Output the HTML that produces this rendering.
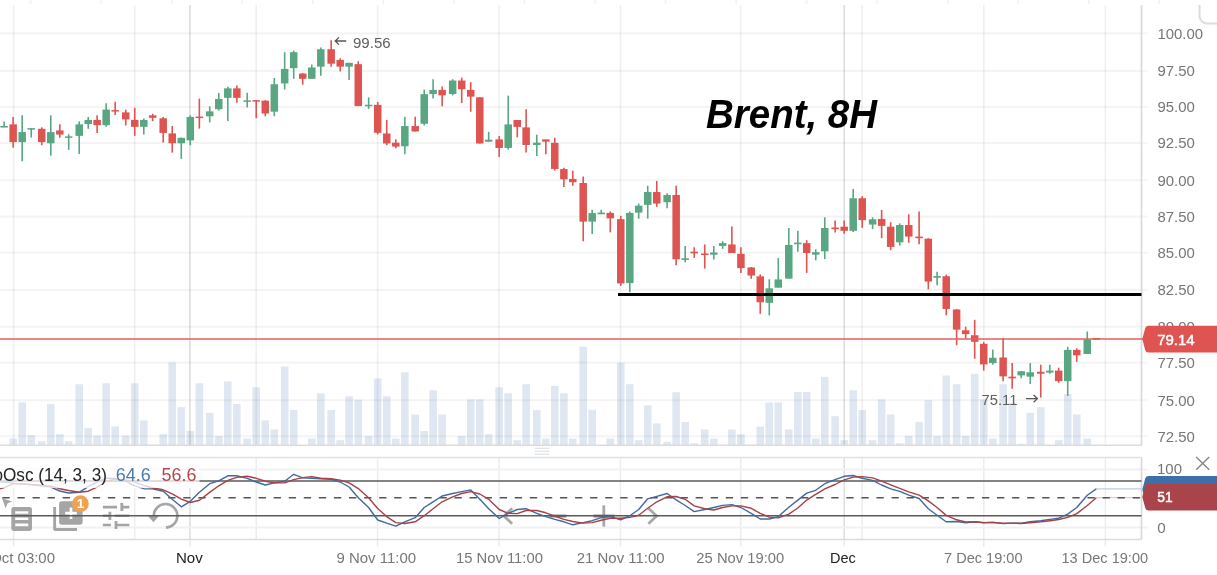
<!DOCTYPE html>
<html lang="en"><head><meta charset="utf-8"><title>Brent, 8H</title>
<style>html,body{margin:0;padding:0;background:#fff;}body{width:1217px;height:575px;overflow:hidden;}svg{display:block;filter:blur(0.4px);}text{font-family:"Liberation Sans", sans-serif;}</style>
</head><body>
<svg width="1217" height="575" viewBox="0 0 1217 575" role="img" aria-label="Brent, 8H candlestick chart">
<rect width="1217" height="575" fill="#fff"/>
<g id="topticks">
<line x1="30.60" y1="0.00" x2="30.60" y2="4.00" stroke="#f1f1f1" stroke-width="1.5"/>
<line x1="101.15" y1="0.00" x2="101.15" y2="4.00" stroke="#f1f1f1" stroke-width="1.5"/>
<line x1="171.70" y1="0.00" x2="171.70" y2="4.00" stroke="#f1f1f1" stroke-width="1.5"/>
<line x1="242.25" y1="0.00" x2="242.25" y2="4.00" stroke="#f1f1f1" stroke-width="1.5"/>
<line x1="312.80" y1="0.00" x2="312.80" y2="4.00" stroke="#f1f1f1" stroke-width="1.5"/>
<line x1="383.35" y1="0.00" x2="383.35" y2="4.00" stroke="#f1f1f1" stroke-width="1.5"/>
<line x1="453.90" y1="0.00" x2="453.90" y2="4.00" stroke="#f1f1f1" stroke-width="1.5"/>
<line x1="524.45" y1="0.00" x2="524.45" y2="4.00" stroke="#f1f1f1" stroke-width="1.5"/>
<line x1="595.00" y1="0.00" x2="595.00" y2="4.00" stroke="#f1f1f1" stroke-width="1.5"/>
<line x1="665.55" y1="0.00" x2="665.55" y2="4.00" stroke="#f1f1f1" stroke-width="1.5"/>
<line x1="736.10" y1="0.00" x2="736.10" y2="4.00" stroke="#f1f1f1" stroke-width="1.5"/>
<line x1="806.65" y1="0.00" x2="806.65" y2="4.00" stroke="#f1f1f1" stroke-width="1.5"/>
<line x1="877.20" y1="0.00" x2="877.20" y2="4.00" stroke="#f1f1f1" stroke-width="1.5"/>
<line x1="947.75" y1="0.00" x2="947.75" y2="4.00" stroke="#f1f1f1" stroke-width="1.5"/>
<line x1="1018.30" y1="0.00" x2="1018.30" y2="4.00" stroke="#f1f1f1" stroke-width="1.5"/>
<line x1="1088.85" y1="0.00" x2="1088.85" y2="4.00" stroke="#f1f1f1" stroke-width="1.5"/>
<line x1="1159.40" y1="0.00" x2="1159.40" y2="4.00" stroke="#f1f1f1" stroke-width="1.5"/>
</g>
<g id="volume" fill="#dfe8f2">
<rect x="9.35" y="438.48" width="7.6" height="6.52"/>
<rect x="18.39" y="402.33" width="7.6" height="42.67"/>
<rect x="27.42" y="435.20" width="7.6" height="9.80"/>
<rect x="37.94" y="441.28" width="7.6" height="3.72"/>
<rect x="46.98" y="403.97" width="7.6" height="41.03"/>
<rect x="56.02" y="434.21" width="7.6" height="10.79"/>
<rect x="64.89" y="441.28" width="7.6" height="3.72"/>
<rect x="75.41" y="384.25" width="7.6" height="60.75"/>
<rect x="84.45" y="428.13" width="7.6" height="16.87"/>
<rect x="93.32" y="435.53" width="7.6" height="9.47"/>
<rect x="102.36" y="383.27" width="7.6" height="61.73"/>
<rect x="111.40" y="426.49" width="7.6" height="18.51"/>
<rect x="121.92" y="435.53" width="7.6" height="9.47"/>
<rect x="130.96" y="383.27" width="7.6" height="61.73"/>
<rect x="140.00" y="420.41" width="7.6" height="24.59"/>
<rect x="159.39" y="434.21" width="7.6" height="10.79"/>
<rect x="168.43" y="362.40" width="7.6" height="82.60"/>
<rect x="177.47" y="407.10" width="7.6" height="37.90"/>
<rect x="186.50" y="430.92" width="7.6" height="14.08"/>
<rect x="195.55" y="383.27" width="7.6" height="61.73"/>
<rect x="205.92" y="412.85" width="7.6" height="32.15"/>
<rect x="214.96" y="435.85" width="7.6" height="9.15"/>
<rect x="224.00" y="381.29" width="7.6" height="63.71"/>
<rect x="233.04" y="403.97" width="7.6" height="41.03"/>
<rect x="243.39" y="438.48" width="7.6" height="6.52"/>
<rect x="252.43" y="387.37" width="7.6" height="57.63"/>
<rect x="261.47" y="420.41" width="7.6" height="24.59"/>
<rect x="270.51" y="429.45" width="7.6" height="15.55"/>
<rect x="280.86" y="366.50" width="7.6" height="78.50"/>
<rect x="289.90" y="410.05" width="7.6" height="34.95"/>
<rect x="307.97" y="438.48" width="7.6" height="6.52"/>
<rect x="317.01" y="393.29" width="7.6" height="51.71"/>
<rect x="327.37" y="410.05" width="7.6" height="34.95"/>
<rect x="336.41" y="440.13" width="7.6" height="4.87"/>
<rect x="345.28" y="396.41" width="7.6" height="48.59"/>
<rect x="354.48" y="399.70" width="7.6" height="45.30"/>
<rect x="364.84" y="435.85" width="7.6" height="9.15"/>
<rect x="373.90" y="378.50" width="7.6" height="66.50"/>
<rect x="382.94" y="396.41" width="7.6" height="48.59"/>
<rect x="392.00" y="438.48" width="7.6" height="6.52"/>
<rect x="401.04" y="372.26" width="7.6" height="72.74"/>
<rect x="411.39" y="414.49" width="7.6" height="30.51"/>
<rect x="420.43" y="430.92" width="7.6" height="14.08"/>
<rect x="429.31" y="390.33" width="7.6" height="54.67"/>
<rect x="438.34" y="414.49" width="7.6" height="30.51"/>
<rect x="457.90" y="435.85" width="7.6" height="9.15"/>
<rect x="466.94" y="399.37" width="7.6" height="45.63"/>
<rect x="475.98" y="399.37" width="7.6" height="45.63"/>
<rect x="484.85" y="434.21" width="7.6" height="10.79"/>
<rect x="495.37" y="387.37" width="7.6" height="57.63"/>
<rect x="504.41" y="393.29" width="7.6" height="51.71"/>
<rect x="513.45" y="440.13" width="7.6" height="4.87"/>
<rect x="522.32" y="384.25" width="7.6" height="60.75"/>
<rect x="533.00" y="410.05" width="7.6" height="34.95"/>
<rect x="542.04" y="438.48" width="7.6" height="6.52"/>
<rect x="550.97" y="385.90" width="7.6" height="59.10"/>
<rect x="560.07" y="393.29" width="7.6" height="51.71"/>
<rect x="568.97" y="438.53" width="7.6" height="6.47"/>
<rect x="579.40" y="346.64" width="7.6" height="98.36"/>
<rect x="588.39" y="409.76" width="7.6" height="35.24"/>
<rect x="606.46" y="438.58" width="7.6" height="6.42"/>
<rect x="616.98" y="362.75" width="7.6" height="82.25"/>
<rect x="626.02" y="384.17" width="7.6" height="60.83"/>
<rect x="634.89" y="440.09" width="7.6" height="4.91"/>
<rect x="643.93" y="405.40" width="7.6" height="39.60"/>
<rect x="652.97" y="423.41" width="7.6" height="21.59"/>
<rect x="663.32" y="441.80" width="7.6" height="3.20"/>
<rect x="672.36" y="392.13" width="7.6" height="52.87"/>
<rect x="681.40" y="421.90" width="7.6" height="23.10"/>
<rect x="690.44" y="443.32" width="7.6" height="1.68"/>
<rect x="700.96" y="429.48" width="7.6" height="15.52"/>
<rect x="710.00" y="438.58" width="7.6" height="6.42"/>
<rect x="728.07" y="429.48" width="7.6" height="15.52"/>
<rect x="737.11" y="434.22" width="7.6" height="10.78"/>
<rect x="756.45" y="426.56" width="7.6" height="18.44"/>
<rect x="765.49" y="402.44" width="7.6" height="42.56"/>
<rect x="774.47" y="402.33" width="7.6" height="42.67"/>
<rect x="784.98" y="429.45" width="7.6" height="15.55"/>
<rect x="794.02" y="391.98" width="7.6" height="53.02"/>
<rect x="802.90" y="391.98" width="7.6" height="53.02"/>
<rect x="811.94" y="438.48" width="7.6" height="6.52"/>
<rect x="820.97" y="376.86" width="7.6" height="68.14"/>
<rect x="831.33" y="416.13" width="7.6" height="28.87"/>
<rect x="840.37" y="440.13" width="7.6" height="4.87"/>
<rect x="849.40" y="390.33" width="7.6" height="54.67"/>
<rect x="858.44" y="410.05" width="7.6" height="34.95"/>
<rect x="868.80" y="440.13" width="7.6" height="4.87"/>
<rect x="877.84" y="399.37" width="7.6" height="45.63"/>
<rect x="886.87" y="414.49" width="7.6" height="30.51"/>
<rect x="895.91" y="443.25" width="7.6" height="1.75"/>
<rect x="904.95" y="435.85" width="7.6" height="9.15"/>
<rect x="915.30" y="422.05" width="7.6" height="22.95"/>
<rect x="924.51" y="400.19" width="7.6" height="44.81"/>
<rect x="933.32" y="435.85" width="7.6" height="9.15"/>
<rect x="942.44" y="375.54" width="7.6" height="69.46"/>
<rect x="952.82" y="384.25" width="7.6" height="60.75"/>
<rect x="961.86" y="435.85" width="7.6" height="9.15"/>
<rect x="970.90" y="373.90" width="7.6" height="71.10"/>
<rect x="979.94" y="399.37" width="7.6" height="45.63"/>
<rect x="988.98" y="438.48" width="7.6" height="6.52"/>
<rect x="999.33" y="384.25" width="7.6" height="60.75"/>
<rect x="1008.37" y="402.66" width="7.6" height="42.34"/>
<rect x="1017.41" y="443.74" width="7.6" height="1.26"/>
<rect x="1026.45" y="412.85" width="7.6" height="32.15"/>
<rect x="1036.96" y="407.10" width="7.6" height="37.90"/>
<rect x="1054.88" y="440.13" width="7.6" height="4.87"/>
<rect x="1063.92" y="393.95" width="7.6" height="51.05"/>
<rect x="1072.95" y="414.49" width="7.6" height="30.51"/>
<rect x="1083.47" y="438.48" width="7.6" height="6.52"/>
</g>
<g id="grid">
<line x1="0.00" y1="33.40" x2="1147.50" y2="33.40" stroke="#000" stroke-width="2.1" stroke-opacity="0.043"/>
<line x1="0.00" y1="70.90" x2="1147.50" y2="70.90" stroke="#000" stroke-width="2.1" stroke-opacity="0.043"/>
<line x1="0.00" y1="107.00" x2="1147.50" y2="107.00" stroke="#000" stroke-width="2.1" stroke-opacity="0.043"/>
<line x1="0.00" y1="143.10" x2="1147.50" y2="143.10" stroke="#000" stroke-width="2.1" stroke-opacity="0.043"/>
<line x1="0.00" y1="180.30" x2="1147.50" y2="180.30" stroke="#000" stroke-width="2.1" stroke-opacity="0.043"/>
<line x1="0.00" y1="216.60" x2="1147.50" y2="216.60" stroke="#000" stroke-width="2.1" stroke-opacity="0.043"/>
<line x1="0.00" y1="252.80" x2="1147.50" y2="252.80" stroke="#000" stroke-width="2.1" stroke-opacity="0.043"/>
<line x1="0.00" y1="289.90" x2="1147.50" y2="289.90" stroke="#000" stroke-width="2.1" stroke-opacity="0.043"/>
<line x1="0.00" y1="326.70" x2="1147.50" y2="326.70" stroke="#000" stroke-width="2.1" stroke-opacity="0.043"/>
<line x1="0.00" y1="362.60" x2="1147.50" y2="362.60" stroke="#000" stroke-width="2.1" stroke-opacity="0.043"/>
<line x1="0.00" y1="400.20" x2="1147.50" y2="400.20" stroke="#000" stroke-width="2.1" stroke-opacity="0.043"/>
<line x1="0.00" y1="436.20" x2="1147.50" y2="436.20" stroke="#000" stroke-width="2.1" stroke-opacity="0.043"/>
<line x1="13.60" y1="5.00" x2="13.60" y2="445.20" stroke="#000" stroke-width="1.7" stroke-opacity="0.06"/>
<line x1="13.60" y1="488.20" x2="13.60" y2="539.50" stroke="#ededee" stroke-width="1.5"/>
<line x1="13.60" y1="539.50" x2="13.60" y2="546.50" stroke="#ebebeb" stroke-width="1.5"/>
<line x1="134.70" y1="5.00" x2="134.70" y2="445.20" stroke="#000" stroke-width="1.7" stroke-opacity="0.06"/>
<line x1="134.70" y1="488.20" x2="134.70" y2="539.50" stroke="#ededee" stroke-width="1.5"/>
<line x1="189.90" y1="5.00" x2="189.90" y2="445.20" stroke="#000" stroke-width="1.7" stroke-opacity="0.13"/>
<line x1="189.90" y1="488.20" x2="189.90" y2="539.50" stroke="#dedede" stroke-width="1.5"/>
<line x1="189.90" y1="539.50" x2="189.90" y2="546.50" stroke="#ebebeb" stroke-width="1.5"/>
<line x1="256.20" y1="5.00" x2="256.20" y2="445.20" stroke="#000" stroke-width="1.7" stroke-opacity="0.06"/>
<line x1="256.20" y1="457.50" x2="256.20" y2="539.50" stroke="#ededee" stroke-width="1.5"/>
<line x1="377.60" y1="5.00" x2="377.60" y2="445.20" stroke="#000" stroke-width="1.7" stroke-opacity="0.06"/>
<line x1="377.60" y1="457.50" x2="377.60" y2="539.50" stroke="#ededee" stroke-width="1.5"/>
<line x1="377.60" y1="539.50" x2="377.60" y2="546.50" stroke="#ebebeb" stroke-width="1.5"/>
<line x1="499.00" y1="5.00" x2="499.00" y2="445.20" stroke="#000" stroke-width="1.7" stroke-opacity="0.06"/>
<line x1="499.00" y1="457.50" x2="499.00" y2="539.50" stroke="#ededee" stroke-width="1.5"/>
<line x1="499.00" y1="539.50" x2="499.00" y2="546.50" stroke="#ebebeb" stroke-width="1.5"/>
<line x1="620.40" y1="5.00" x2="620.40" y2="445.20" stroke="#000" stroke-width="1.7" stroke-opacity="0.06"/>
<line x1="620.40" y1="457.50" x2="620.40" y2="539.50" stroke="#ededee" stroke-width="1.5"/>
<line x1="620.40" y1="539.50" x2="620.40" y2="546.50" stroke="#ebebeb" stroke-width="1.5"/>
<line x1="740.80" y1="5.00" x2="740.80" y2="445.20" stroke="#000" stroke-width="1.7" stroke-opacity="0.06"/>
<line x1="740.80" y1="457.50" x2="740.80" y2="539.50" stroke="#ededee" stroke-width="1.5"/>
<line x1="740.80" y1="539.50" x2="740.80" y2="546.50" stroke="#ebebeb" stroke-width="1.5"/>
<line x1="844.20" y1="5.00" x2="844.20" y2="445.20" stroke="#000" stroke-width="1.7" stroke-opacity="0.13"/>
<line x1="844.20" y1="457.50" x2="844.20" y2="539.50" stroke="#dedede" stroke-width="1.5"/>
<line x1="844.20" y1="539.50" x2="844.20" y2="546.50" stroke="#ebebeb" stroke-width="1.5"/>
<line x1="862.10" y1="5.00" x2="862.10" y2="445.20" stroke="#000" stroke-width="1.7" stroke-opacity="0.06"/>
<line x1="862.10" y1="457.50" x2="862.10" y2="539.50" stroke="#ededee" stroke-width="1.5"/>
<line x1="983.80" y1="5.00" x2="983.80" y2="445.20" stroke="#000" stroke-width="1.7" stroke-opacity="0.06"/>
<line x1="983.80" y1="457.50" x2="983.80" y2="539.50" stroke="#ededee" stroke-width="1.5"/>
<line x1="983.80" y1="539.50" x2="983.80" y2="546.50" stroke="#ebebeb" stroke-width="1.5"/>
<line x1="1105.40" y1="5.00" x2="1105.40" y2="445.20" stroke="#000" stroke-width="1.7" stroke-opacity="0.06"/>
<line x1="1105.40" y1="457.50" x2="1105.40" y2="539.50" stroke="#ededee" stroke-width="1.5"/>
<line x1="1105.40" y1="539.50" x2="1105.40" y2="546.50" stroke="#ebebeb" stroke-width="1.5"/>
<line x1="0.00" y1="469.40" x2="1147.50" y2="469.40" stroke="#f1f1f1" stroke-width="2.0"/>
<line x1="0.00" y1="527.60" x2="1147.50" y2="527.60" stroke="#f1f1f1" stroke-width="2.0"/>
</g>
<g id="borders">
<line x1="0.00" y1="445.20" x2="1141.50" y2="445.20" stroke="#dcdcdc" stroke-width="1.6"/>
<line x1="0.00" y1="457.50" x2="1141.50" y2="457.50" stroke="#e2e2e2" stroke-width="1.6"/>
<line x1="0.00" y1="539.50" x2="1141.50" y2="539.50" stroke="#dcdcdc" stroke-width="1.6"/>
<line x1="1141.50" y1="5.00" x2="1141.50" y2="445.20" stroke="#d8d8da" stroke-width="1.6"/>
<line x1="1141.50" y1="457.50" x2="1141.50" y2="539.50" stroke="#d8d8da" stroke-width="1.6"/>
</g>
<g id="handle" stroke="#dde3ea" stroke-width="1.2">
<line x1="534.5" y1="448.3" x2="549.5" y2="448.3"/>
<line x1="534.5" y1="451.3" x2="549.5" y2="451.3"/>
<line x1="534.5" y1="454.2" x2="549.5" y2="454.2"/>
</g>
<g id="candles">
<line x1="4.11" y1="121.41" x2="4.11" y2="127.33" stroke="#58a682" stroke-width="1.6"/>
<rect x="0.36" y="126.01" width="7.5" height="1.50" fill="#58a682"/>
<line x1="13.15" y1="116.98" x2="13.15" y2="147.71" stroke="#de5450" stroke-width="1.6"/>
<rect x="9.40" y="124.37" width="7.5" height="17.75" fill="#de5450"/>
<line x1="22.19" y1="115.33" x2="22.19" y2="161.35" stroke="#58a682" stroke-width="1.6"/>
<rect x="18.44" y="132.10" width="7.5" height="10.02" fill="#58a682"/>
<line x1="31.22" y1="128.15" x2="31.22" y2="137.52" stroke="#58a682" stroke-width="1.6"/>
<rect x="27.47" y="128.15" width="7.5" height="1.50" fill="#58a682"/>
<line x1="41.74" y1="127.33" x2="41.74" y2="145.24" stroke="#de5450" stroke-width="1.6"/>
<rect x="37.99" y="128.81" width="7.5" height="13.31" fill="#de5450"/>
<line x1="50.78" y1="115.33" x2="50.78" y2="155.60" stroke="#58a682" stroke-width="1.6"/>
<rect x="47.03" y="132.10" width="7.5" height="11.18" fill="#58a682"/>
<line x1="59.82" y1="124.37" x2="59.82" y2="137.85" stroke="#de5450" stroke-width="1.6"/>
<rect x="56.07" y="130.45" width="7.5" height="4.11" fill="#de5450"/>
<line x1="68.69" y1="134.23" x2="68.69" y2="149.84" stroke="#58a682" stroke-width="1.6"/>
<rect x="64.94" y="136.37" width="7.5" height="1.50" fill="#58a682"/>
<line x1="79.21" y1="121.41" x2="79.21" y2="153.95" stroke="#58a682" stroke-width="1.6"/>
<rect x="75.46" y="124.37" width="7.5" height="11.50" fill="#58a682"/>
<line x1="88.25" y1="116.98" x2="88.25" y2="128.81" stroke="#58a682" stroke-width="1.6"/>
<rect x="84.50" y="119.93" width="7.5" height="4.11" fill="#58a682"/>
<line x1="97.12" y1="115.33" x2="97.12" y2="133.08" stroke="#de5450" stroke-width="1.6"/>
<rect x="93.37" y="119.93" width="7.5" height="5.26" fill="#de5450"/>
<line x1="106.16" y1="103.34" x2="106.16" y2="126.84" stroke="#58a682" stroke-width="1.6"/>
<rect x="102.41" y="109.58" width="7.5" height="15.61" fill="#58a682"/>
<line x1="115.20" y1="101.86" x2="115.20" y2="115.00" stroke="#de5450" stroke-width="1.6"/>
<rect x="111.45" y="110.07" width="7.5" height="1.50" fill="#de5450"/>
<line x1="125.72" y1="109.58" x2="125.72" y2="125.52" stroke="#de5450" stroke-width="1.6"/>
<rect x="121.97" y="112.37" width="7.5" height="7.07" fill="#de5450"/>
<line x1="134.76" y1="107.94" x2="134.76" y2="135.88" stroke="#de5450" stroke-width="1.6"/>
<rect x="131.01" y="119.93" width="7.5" height="6.90" fill="#de5450"/>
<line x1="143.80" y1="118.62" x2="143.80" y2="134.56" stroke="#58a682" stroke-width="1.6"/>
<rect x="140.05" y="119.93" width="7.5" height="6.90" fill="#58a682"/>
<line x1="152.67" y1="113.69" x2="152.67" y2="121.08" stroke="#de5450" stroke-width="1.6"/>
<rect x="148.92" y="115.33" width="7.5" height="2.47" fill="#de5450"/>
<line x1="163.19" y1="116.98" x2="163.19" y2="142.45" stroke="#de5450" stroke-width="1.6"/>
<rect x="159.44" y="118.29" width="7.5" height="14.63" fill="#de5450"/>
<line x1="172.23" y1="126.01" x2="172.23" y2="152.64" stroke="#de5450" stroke-width="1.6"/>
<rect x="168.48" y="133.41" width="7.5" height="9.86" fill="#de5450"/>
<line x1="181.27" y1="137.52" x2="181.27" y2="158.88" stroke="#58a682" stroke-width="1.6"/>
<rect x="177.52" y="137.85" width="7.5" height="5.42" fill="#58a682"/>
<line x1="190.30" y1="115.33" x2="190.30" y2="145.24" stroke="#58a682" stroke-width="1.6"/>
<rect x="186.55" y="116.98" width="7.5" height="23.34" fill="#58a682"/>
<line x1="199.35" y1="98.69" x2="199.35" y2="128.60" stroke="#de5450" stroke-width="1.6"/>
<rect x="195.60" y="116.61" width="7.5" height="1.50" fill="#de5450"/>
<line x1="209.72" y1="106.42" x2="209.72" y2="122.36" stroke="#58a682" stroke-width="1.6"/>
<rect x="205.97" y="111.35" width="7.5" height="4.93" fill="#58a682"/>
<line x1="218.76" y1="92.94" x2="218.76" y2="110.53" stroke="#58a682" stroke-width="1.6"/>
<rect x="215.01" y="99.02" width="7.5" height="10.19" fill="#58a682"/>
<line x1="227.80" y1="86.70" x2="227.80" y2="120.88" stroke="#58a682" stroke-width="1.6"/>
<rect x="224.05" y="88.34" width="7.5" height="9.53" fill="#58a682"/>
<line x1="236.84" y1="85.38" x2="236.84" y2="102.80" stroke="#de5450" stroke-width="1.6"/>
<rect x="233.09" y="88.34" width="7.5" height="9.53" fill="#de5450"/>
<line x1="247.19" y1="92.78" x2="247.19" y2="107.57" stroke="#58a682" stroke-width="1.6"/>
<rect x="243.44" y="100.34" width="7.5" height="1.50" fill="#58a682"/>
<line x1="256.23" y1="100.17" x2="256.23" y2="118.25" stroke="#de5450" stroke-width="1.6"/>
<rect x="252.48" y="100.17" width="7.5" height="1.50" fill="#de5450"/>
<line x1="265.27" y1="100.17" x2="265.27" y2="116.28" stroke="#de5450" stroke-width="1.6"/>
<rect x="261.52" y="100.67" width="7.5" height="12.82" fill="#de5450"/>
<line x1="274.31" y1="77.99" x2="274.31" y2="116.28" stroke="#58a682" stroke-width="1.6"/>
<rect x="270.56" y="84.23" width="7.5" height="27.44" fill="#58a682"/>
<line x1="284.66" y1="52.19" x2="284.66" y2="89.49" stroke="#58a682" stroke-width="1.6"/>
<rect x="280.91" y="68.95" width="7.5" height="14.46" fill="#58a682"/>
<line x1="293.70" y1="50.54" x2="293.70" y2="78.81" stroke="#58a682" stroke-width="1.6"/>
<rect x="289.95" y="52.19" width="7.5" height="15.94" fill="#58a682"/>
<line x1="302.74" y1="73.06" x2="302.74" y2="84.72" stroke="#de5450" stroke-width="1.6"/>
<rect x="298.99" y="73.55" width="7.5" height="5.26" fill="#de5450"/>
<line x1="311.77" y1="64.51" x2="311.77" y2="78.81" stroke="#58a682" stroke-width="1.6"/>
<rect x="308.02" y="67.47" width="7.5" height="11.34" fill="#58a682"/>
<line x1="320.81" y1="47.58" x2="320.81" y2="75.69" stroke="#58a682" stroke-width="1.6"/>
<rect x="317.06" y="49.23" width="7.5" height="17.42" fill="#58a682"/>
<line x1="331.17" y1="40.19" x2="331.17" y2="66.65" stroke="#de5450" stroke-width="1.6"/>
<rect x="327.42" y="49.23" width="7.5" height="14.46" fill="#de5450"/>
<line x1="340.21" y1="58.27" x2="340.21" y2="71.41" stroke="#de5450" stroke-width="1.6"/>
<rect x="336.46" y="59.91" width="7.5" height="6.74" fill="#de5450"/>
<line x1="349.08" y1="62.87" x2="349.08" y2="80.12" stroke="#58a682" stroke-width="1.6"/>
<rect x="345.33" y="62.87" width="7.5" height="3.78" fill="#58a682"/>
<line x1="358.28" y1="61.22" x2="358.28" y2="106.09" stroke="#de5450" stroke-width="1.6"/>
<rect x="354.53" y="64.18" width="7.5" height="41.91" fill="#de5450"/>
<line x1="368.64" y1="97.38" x2="368.64" y2="108.88" stroke="#58a682" stroke-width="1.6"/>
<rect x="364.89" y="104.77" width="7.5" height="1.50" fill="#58a682"/>
<line x1="377.70" y1="101.91" x2="377.70" y2="134.45" stroke="#de5450" stroke-width="1.6"/>
<rect x="373.95" y="104.86" width="7.5" height="27.94" fill="#de5450"/>
<line x1="386.74" y1="119.98" x2="386.74" y2="145.13" stroke="#de5450" stroke-width="1.6"/>
<rect x="382.99" y="133.46" width="7.5" height="10.02" fill="#de5450"/>
<line x1="395.80" y1="139.21" x2="395.80" y2="148.25" stroke="#de5450" stroke-width="1.6"/>
<rect x="392.05" y="142.66" width="7.5" height="3.94" fill="#de5450"/>
<line x1="404.84" y1="116.70" x2="404.84" y2="154.17" stroke="#58a682" stroke-width="1.6"/>
<rect x="401.09" y="126.06" width="7.5" height="20.21" fill="#58a682"/>
<line x1="415.19" y1="116.70" x2="415.19" y2="131.49" stroke="#de5450" stroke-width="1.6"/>
<rect x="411.44" y="126.06" width="7.5" height="5.42" fill="#de5450"/>
<line x1="424.23" y1="89.58" x2="424.23" y2="125.41" stroke="#58a682" stroke-width="1.6"/>
<rect x="420.48" y="94.18" width="7.5" height="29.58" fill="#58a682"/>
<line x1="433.11" y1="79.23" x2="433.11" y2="98.62" stroke="#58a682" stroke-width="1.6"/>
<rect x="429.36" y="89.91" width="7.5" height="4.11" fill="#58a682"/>
<line x1="442.14" y1="86.62" x2="442.14" y2="106.34" stroke="#de5450" stroke-width="1.6"/>
<rect x="438.39" y="89.91" width="7.5" height="5.42" fill="#de5450"/>
<line x1="452.66" y1="79.23" x2="452.66" y2="95.33" stroke="#58a682" stroke-width="1.6"/>
<rect x="448.91" y="80.54" width="7.5" height="13.48" fill="#58a682"/>
<line x1="461.70" y1="77.58" x2="461.70" y2="103.06" stroke="#de5450" stroke-width="1.6"/>
<rect x="457.95" y="80.54" width="7.5" height="8.71" fill="#de5450"/>
<line x1="470.74" y1="82.19" x2="470.74" y2="111.77" stroke="#de5450" stroke-width="1.6"/>
<rect x="466.99" y="89.91" width="7.5" height="6.74" fill="#de5450"/>
<line x1="479.78" y1="97.30" x2="479.78" y2="143.48" stroke="#de5450" stroke-width="1.6"/>
<rect x="476.03" y="97.30" width="7.5" height="46.18" fill="#de5450"/>
<line x1="488.65" y1="131.82" x2="488.65" y2="141.68" stroke="#58a682" stroke-width="1.6"/>
<rect x="484.90" y="139.70" width="7.5" height="1.97" fill="#58a682"/>
<line x1="499.17" y1="136.09" x2="499.17" y2="157.12" stroke="#de5450" stroke-width="1.6"/>
<rect x="495.42" y="139.38" width="7.5" height="8.55" fill="#de5450"/>
<line x1="508.21" y1="95.66" x2="508.21" y2="149.56" stroke="#58a682" stroke-width="1.6"/>
<rect x="504.46" y="124.42" width="7.5" height="23.50" fill="#58a682"/>
<line x1="517.25" y1="119.98" x2="517.25" y2="137.24" stroke="#de5450" stroke-width="1.6"/>
<rect x="513.50" y="119.98" width="7.5" height="6.90" fill="#de5450"/>
<line x1="526.12" y1="109.30" x2="526.12" y2="152.52" stroke="#de5450" stroke-width="1.6"/>
<rect x="522.37" y="127.38" width="7.5" height="17.58" fill="#de5450"/>
<line x1="536.80" y1="134.77" x2="536.80" y2="155.97" stroke="#58a682" stroke-width="1.6"/>
<rect x="533.05" y="142.66" width="7.5" height="2.30" fill="#58a682"/>
<line x1="545.84" y1="139.38" x2="545.84" y2="154.17" stroke="#de5450" stroke-width="1.6"/>
<rect x="542.09" y="139.38" width="7.5" height="2.30" fill="#de5450"/>
<line x1="554.77" y1="137.72" x2="554.77" y2="170.59" stroke="#de5450" stroke-width="1.6"/>
<rect x="551.02" y="142.82" width="7.5" height="26.13" fill="#de5450"/>
<line x1="563.87" y1="167.80" x2="563.87" y2="187.03" stroke="#de5450" stroke-width="1.6"/>
<rect x="560.12" y="169.11" width="7.5" height="10.19" fill="#de5450"/>
<line x1="572.77" y1="170.68" x2="572.77" y2="185.80" stroke="#de5450" stroke-width="1.6"/>
<rect x="569.02" y="178.90" width="7.5" height="3.29" fill="#de5450"/>
<line x1="583.20" y1="176.43" x2="583.20" y2="241.35" stroke="#de5450" stroke-width="1.6"/>
<rect x="579.45" y="183.01" width="7.5" height="38.62" fill="#de5450"/>
<line x1="592.19" y1="209.79" x2="592.19" y2="233.95" stroke="#58a682" stroke-width="1.6"/>
<rect x="588.44" y="213.08" width="7.5" height="8.55" fill="#58a682"/>
<line x1="601.22" y1="209.79" x2="601.22" y2="214.23" stroke="#58a682" stroke-width="1.6"/>
<rect x="597.47" y="212.59" width="7.5" height="1.64" fill="#58a682"/>
<line x1="610.26" y1="211.44" x2="610.26" y2="232.31" stroke="#de5450" stroke-width="1.6"/>
<rect x="606.51" y="212.92" width="7.5" height="5.42" fill="#de5450"/>
<line x1="620.78" y1="215.88" x2="620.78" y2="285.88" stroke="#de5450" stroke-width="1.6"/>
<rect x="617.03" y="219.16" width="7.5" height="64.26" fill="#de5450"/>
<line x1="629.82" y1="211.44" x2="629.82" y2="292.13" stroke="#58a682" stroke-width="1.6"/>
<rect x="626.07" y="212.92" width="7.5" height="70.17" fill="#58a682"/>
<line x1="638.69" y1="203.55" x2="638.69" y2="218.67" stroke="#58a682" stroke-width="1.6"/>
<rect x="634.94" y="205.69" width="7.5" height="6.90" fill="#58a682"/>
<line x1="647.73" y1="185.80" x2="647.73" y2="218.67" stroke="#58a682" stroke-width="1.6"/>
<rect x="643.98" y="192.05" width="7.5" height="12.82" fill="#58a682"/>
<line x1="656.77" y1="181.04" x2="656.77" y2="206.84" stroke="#de5450" stroke-width="1.6"/>
<rect x="653.02" y="192.05" width="7.5" height="11.50" fill="#de5450"/>
<line x1="667.12" y1="193.36" x2="667.12" y2="208.15" stroke="#58a682" stroke-width="1.6"/>
<rect x="663.37" y="195.00" width="7.5" height="7.23" fill="#58a682"/>
<line x1="676.16" y1="185.80" x2="676.16" y2="265.34" stroke="#de5450" stroke-width="1.6"/>
<rect x="672.41" y="195.00" width="7.5" height="64.26" fill="#de5450"/>
<line x1="685.20" y1="245.94" x2="685.20" y2="262.37" stroke="#58a682" stroke-width="1.6"/>
<rect x="681.45" y="258.27" width="7.5" height="1.64" fill="#58a682"/>
<line x1="694.24" y1="247.26" x2="694.24" y2="257.94" stroke="#de5450" stroke-width="1.6"/>
<rect x="690.49" y="251.69" width="7.5" height="1.64" fill="#de5450"/>
<line x1="704.76" y1="244.46" x2="704.76" y2="268.62" stroke="#de5450" stroke-width="1.6"/>
<rect x="701.01" y="253.50" width="7.5" height="1.50" fill="#de5450"/>
<line x1="713.80" y1="245.94" x2="713.80" y2="259.58" stroke="#58a682" stroke-width="1.6"/>
<rect x="710.05" y="252.51" width="7.5" height="2.14" fill="#58a682"/>
<line x1="722.67" y1="241.18" x2="722.67" y2="248.90" stroke="#58a682" stroke-width="1.6"/>
<rect x="718.92" y="243.15" width="7.5" height="2.79" fill="#58a682"/>
<line x1="731.87" y1="226.55" x2="731.87" y2="253.01" stroke="#de5450" stroke-width="1.6"/>
<rect x="728.12" y="244.46" width="7.5" height="8.55" fill="#de5450"/>
<line x1="740.91" y1="247.26" x2="740.91" y2="273.06" stroke="#de5450" stroke-width="1.6"/>
<rect x="737.16" y="253.83" width="7.5" height="14.30" fill="#de5450"/>
<line x1="751.21" y1="266.98" x2="751.21" y2="278.81" stroke="#de5450" stroke-width="1.6"/>
<rect x="747.46" y="267.47" width="7.5" height="8.05" fill="#de5450"/>
<line x1="760.25" y1="274.37" x2="760.25" y2="313.81" stroke="#de5450" stroke-width="1.6"/>
<rect x="756.50" y="276.34" width="7.5" height="25.97" fill="#de5450"/>
<line x1="769.29" y1="279.30" x2="769.29" y2="315.46" stroke="#58a682" stroke-width="1.6"/>
<rect x="765.54" y="288.34" width="7.5" height="14.46" fill="#58a682"/>
<line x1="778.27" y1="258.08" x2="778.27" y2="287.66" stroke="#58a682" stroke-width="1.6"/>
<rect x="774.52" y="279.44" width="7.5" height="8.22" fill="#58a682"/>
<line x1="788.78" y1="228.00" x2="788.78" y2="278.62" stroke="#58a682" stroke-width="1.6"/>
<rect x="785.03" y="244.93" width="7.5" height="33.69" fill="#58a682"/>
<line x1="797.82" y1="230.81" x2="797.82" y2="251.68" stroke="#58a682" stroke-width="1.6"/>
<rect x="794.07" y="242.64" width="7.5" height="1.64" fill="#58a682"/>
<line x1="806.70" y1="240.17" x2="806.70" y2="272.88" stroke="#de5450" stroke-width="1.6"/>
<rect x="802.95" y="243.13" width="7.5" height="9.86" fill="#de5450"/>
<line x1="815.74" y1="249.21" x2="815.74" y2="260.39" stroke="#58a682" stroke-width="1.6"/>
<rect x="811.99" y="252.17" width="7.5" height="2.47" fill="#58a682"/>
<line x1="824.77" y1="217.33" x2="824.77" y2="259.07" stroke="#58a682" stroke-width="1.6"/>
<rect x="821.02" y="228.01" width="7.5" height="23.34" fill="#58a682"/>
<line x1="835.13" y1="220.45" x2="835.13" y2="232.45" stroke="#de5450" stroke-width="1.6"/>
<rect x="831.38" y="227.52" width="7.5" height="1.64" fill="#de5450"/>
<line x1="844.17" y1="220.45" x2="844.17" y2="233.76" stroke="#de5450" stroke-width="1.6"/>
<rect x="840.42" y="226.70" width="7.5" height="4.11" fill="#de5450"/>
<line x1="853.20" y1="188.90" x2="853.20" y2="232.12" stroke="#58a682" stroke-width="1.6"/>
<rect x="849.45" y="198.27" width="7.5" height="32.54" fill="#58a682"/>
<line x1="862.24" y1="196.29" x2="862.24" y2="227.85" stroke="#de5450" stroke-width="1.6"/>
<rect x="858.49" y="198.27" width="7.5" height="21.86" fill="#de5450"/>
<line x1="872.60" y1="217.33" x2="872.60" y2="229.16" stroke="#58a682" stroke-width="1.6"/>
<rect x="868.85" y="219.30" width="7.5" height="5.26" fill="#58a682"/>
<line x1="881.64" y1="209.93" x2="881.64" y2="238.20" stroke="#de5450" stroke-width="1.6"/>
<rect x="877.89" y="218.97" width="7.5" height="6.90" fill="#de5450"/>
<line x1="890.67" y1="222.26" x2="890.67" y2="250.20" stroke="#de5450" stroke-width="1.6"/>
<rect x="886.92" y="226.70" width="7.5" height="20.21" fill="#de5450"/>
<line x1="899.71" y1="223.41" x2="899.71" y2="245.60" stroke="#58a682" stroke-width="1.6"/>
<rect x="895.96" y="225.05" width="7.5" height="17.26" fill="#58a682"/>
<line x1="908.75" y1="214.37" x2="908.75" y2="242.80" stroke="#de5450" stroke-width="1.6"/>
<rect x="905.00" y="225.05" width="7.5" height="11.50" fill="#de5450"/>
<line x1="919.10" y1="211.58" x2="919.10" y2="244.28" stroke="#de5450" stroke-width="1.6"/>
<rect x="915.35" y="236.56" width="7.5" height="1.64" fill="#de5450"/>
<line x1="928.31" y1="238.20" x2="928.31" y2="289.31" stroke="#de5450" stroke-width="1.6"/>
<rect x="924.56" y="238.69" width="7.5" height="42.89" fill="#de5450"/>
<line x1="937.12" y1="271.64" x2="937.12" y2="285.28" stroke="#58a682" stroke-width="1.6"/>
<rect x="933.37" y="276.08" width="7.5" height="1.64" fill="#58a682"/>
<line x1="946.24" y1="274.60" x2="946.24" y2="315.19" stroke="#de5450" stroke-width="1.6"/>
<rect x="942.49" y="276.24" width="7.5" height="32.70" fill="#de5450"/>
<line x1="956.62" y1="308.95" x2="956.62" y2="345.27" stroke="#de5450" stroke-width="1.6"/>
<rect x="952.87" y="309.44" width="7.5" height="20.21" fill="#de5450"/>
<line x1="965.66" y1="326.70" x2="965.66" y2="338.69" stroke="#de5450" stroke-width="1.6"/>
<rect x="961.91" y="330.31" width="7.5" height="3.78" fill="#de5450"/>
<line x1="974.70" y1="319.79" x2="974.70" y2="358.74" stroke="#de5450" stroke-width="1.6"/>
<rect x="970.95" y="335.24" width="7.5" height="6.57" fill="#de5450"/>
<line x1="983.74" y1="341.86" x2="983.74" y2="370.62" stroke="#de5450" stroke-width="1.6"/>
<rect x="979.99" y="343.83" width="7.5" height="20.54" fill="#de5450"/>
<line x1="992.78" y1="349.58" x2="992.78" y2="364.70" stroke="#58a682" stroke-width="1.6"/>
<rect x="989.03" y="357.80" width="7.5" height="5.26" fill="#58a682"/>
<line x1="1003.13" y1="338.08" x2="1003.13" y2="381.13" stroke="#de5450" stroke-width="1.6"/>
<rect x="999.38" y="357.47" width="7.5" height="18.90" fill="#de5450"/>
<line x1="1012.17" y1="363.06" x2="1012.17" y2="388.69" stroke="#de5450" stroke-width="1.6"/>
<rect x="1008.42" y="376.70" width="7.5" height="1.64" fill="#de5450"/>
<line x1="1021.21" y1="370.94" x2="1021.21" y2="378.34" stroke="#58a682" stroke-width="1.6"/>
<rect x="1017.46" y="371.27" width="7.5" height="4.11" fill="#58a682"/>
<line x1="1030.25" y1="363.06" x2="1030.25" y2="384.09" stroke="#58a682" stroke-width="1.6"/>
<rect x="1026.50" y="372.26" width="7.5" height="4.44" fill="#58a682"/>
<line x1="1040.76" y1="364.70" x2="1040.76" y2="397.57" stroke="#de5450" stroke-width="1.6"/>
<rect x="1037.01" y="371.77" width="7.5" height="1.97" fill="#de5450"/>
<line x1="1049.80" y1="364.70" x2="1049.80" y2="373.74" stroke="#58a682" stroke-width="1.6"/>
<rect x="1046.05" y="370.62" width="7.5" height="1.97" fill="#58a682"/>
<line x1="1058.68" y1="367.66" x2="1058.68" y2="382.78" stroke="#de5450" stroke-width="1.6"/>
<rect x="1054.93" y="370.62" width="7.5" height="10.52" fill="#de5450"/>
<line x1="1067.72" y1="346.79" x2="1067.72" y2="395.92" stroke="#58a682" stroke-width="1.6"/>
<rect x="1063.97" y="349.91" width="7.5" height="31.22" fill="#58a682"/>
<line x1="1076.75" y1="348.27" x2="1076.75" y2="361.91" stroke="#de5450" stroke-width="1.6"/>
<rect x="1073.00" y="349.91" width="7.5" height="5.42" fill="#de5450"/>
<line x1="1087.27" y1="331.50" x2="1087.27" y2="354.02" stroke="#58a682" stroke-width="1.6"/>
<rect x="1083.52" y="339.39" width="7.5" height="14.63" fill="#58a682"/>
<rect x="1092.56" y="338.0" width="7.5" height="1.7" fill="#de5450"/>
</g>
<line x1="618.00" y1="294.40" x2="1141.50" y2="294.40" stroke="#000" stroke-width="3.0"/>
<line x1="0.00" y1="338.90" x2="1143.50" y2="338.90" stroke="#e2605c" stroke-width="1.5"/>
<g id="hilo" fill="#5e5e5e" font-size="15.2">
<text x="353" y="48" textLength="37.6" lengthAdjust="spacingAndGlyphs">99.56</text>
<path d="M346.2 41H335.2M339 37.4L335.2 41L339 44.6" fill="none" stroke="#555" stroke-width="1.3"/>
<text x="981.6" y="405.4" textLength="35.8" lengthAdjust="spacingAndGlyphs">75.11</text>
<path d="M1026 398.6H1037.4M1033.6 395L1037.4 398.6L1033.6 402.2" fill="none" stroke="#555" stroke-width="1.3"/>
</g>
<text x="706" y="127.7" font-size="40.6" font-weight="bold" font-style="italic" fill="#000" textLength="171" lengthAdjust="spacingAndGlyphs">Brent, 8H</text>
<g id="tools" fill="#9b9b9b" fill-opacity="0.9">
<path d="M2 498.2L12.2 501.6L7.6 503.3L5.7 508.2Z"/>
<path fill-rule="evenodd" d="M14 507.1H29.3A2.7 2.7 0 0 1 32 509.8V528.2A2.7 2.7 0 0 1 29.3 530.9H14A2.7 2.7 0 0 1 11.3 528.2V509.8A2.7 2.7 0 0 1 14 507.1ZM15.2 511.2V513.7H28.3V511.2ZM15.2 517.4V520H28.3V517.4ZM15.2 523.6V526.2H28.3V523.6Z"/>
<path d="M53.2 507.1H56.1V528H77V530.9H55.2A2 2 0 0 1 53.2 528.9Z"/>
<path fill-rule="evenodd" d="M61.8 501.3H79.9A2.7 2.7 0 0 1 82.6 504V522.1A2.7 2.7 0 0 1 79.9 524.8H61.8A2.7 2.7 0 0 1 59.1 522.1V504A2.7 2.7 0 0 1 61.8 501.3ZM69.6 507.6V511.8H65.2V514.6H69.6V519H72.4V514.6H76.8V511.8H72.4V507.6Z"/>
<path d="M102.9 505.8H117.1V508.4H102.9ZM120.4 503H123.3V505.8H129.3V508.4H123.3V511.1H120.4ZM102.9 514.5H108.5V511.7H111.3V520H108.5V517.1H102.9ZM114.8 514.5H129.3V517.1H114.8ZM102.9 523.7H110.9V526.3H102.9ZM114.6 520.9H117.4V523.7H129.3V526.3H117.4V529H114.6Z"/>
<path d="M147.8 515.8H159.1L153.5 522.2Z"/>
<path d="M153.8 515.8A11.8 11.8 0 1 1 166 527.6" fill="none" stroke="#9b9b9b" stroke-opacity="0.9" stroke-width="2.6"/>
</g>
<g id="nav" fill="none" stroke="#a3a3a3" stroke-width="2.8" stroke-opacity="0.95">
<path d="M512.1 508.3L504 516L512.1 523.7"/>
<path d="M549.8 516H566.4" stroke="#6e6e6e"/>
<path d="M603.8 505.3V526.6"/>
<path d="M593.5 516H614.6" stroke="#6e6e6e"/>
<path d="M648.4 508.3L656.6 516L648.4 523.7"/>
</g>
<g id="osc" fill="none" stroke-linejoin="round">
<line x1="0.00" y1="480.90" x2="1141.50" y2="480.90" stroke="#5a5a5a" stroke-width="1.5"/>
<line x1="0.00" y1="515.80" x2="1141.50" y2="515.80" stroke="#5a5a5a" stroke-width="1.5"/>
<line x1="1096.31" y1="488.95" x2="1141.50" y2="488.95" stroke="#b9cde6" stroke-width="1.2"/>
<line x1="1096.31" y1="497.66" x2="1141.50" y2="497.66" stroke="#f0c8c8" stroke-width="1.2"/>
<line x1="2.4" y1="497.8" x2="1141.5" y2="497.8" stroke="#555" stroke-width="1.6" stroke-dasharray="7.3 7.77"/>
<polyline points="-5.2,481.4 4.1,482.1 13.1,483.1 22.2,484.1 31.2,484.9 41.7,485.8 50.8,487.1 59.8,491.0 68.7,493.0 79.2,492.3 88.2,486.7 97.1,482.1 106.2,478.1 115.2,478.5 125.7,481.2 134.8,485.8 143.8,488.7 152.7,488.9 163.2,491.2 172.2,499.3 181.3,506.8 190.3,501.3 199.4,492.2 209.7,483.7 218.8,480.9 227.8,475.8 236.8,475.8 247.2,478.4 256.2,482.0 265.3,485.0 274.3,482.9 284.7,481.2 293.7,474.3 302.7,477.9 311.8,478.3 320.8,478.8 331.2,479.3 340.2,482.0 349.1,487.0 358.3,497.7 368.6,507.5 377.7,520.0 386.7,523.1 395.8,526.1 404.8,521.8 415.2,517.7 424.2,507.5 433.1,501.8 442.1,496.0 452.7,493.5 461.7,491.6 470.7,489.9 479.8,499.3 488.7,508.7 499.2,518.5 508.2,513.3 517.2,509.5 526.1,508.7 536.8,513.3 545.8,516.6 554.8,519.4 563.9,521.8 572.8,524.8 583.2,522.6 592.2,520.7 601.2,517.7 610.3,516.6 620.8,519.8 629.8,515.7 638.7,509.5 647.7,498.8 656.8,496.3 667.1,493.5 676.2,499.8 685.2,505.5 694.2,511.6 704.8,509.5 713.8,507.5 722.7,505.4 731.9,504.6 740.9,507.5 751.2,513.3 760.2,519.0 769.3,519.0 778.3,516.6 788.8,507.2 797.8,500.1 806.7,493.1 815.7,490.3 824.8,483.7 835.1,479.6 844.2,476.3 853.2,475.5 862.2,478.3 872.6,480.4 881.6,485.0 890.7,488.9 899.7,491.4 908.8,495.2 919.1,498.5 928.3,508.8 937.1,515.2 946.2,521.8 956.6,521.5 965.7,522.8 974.7,521.8 983.7,522.8 992.8,522.3 1003.1,523.6 1012.2,523.1 1021.2,523.1 1030.2,521.8 1040.8,520.7 1049.8,519.4 1058.7,518.2 1067.7,514.1 1076.8,507.5 1087.3,495.2 1096.3,488.9" stroke="#41699e" stroke-width="1.4"/>
<polyline points="-5.2,490.5 4.1,487.6 13.1,483.8 22.2,483.8 31.2,484.4 41.7,485.3 50.8,486.2 59.8,488.7 68.7,490.5 79.2,492.3 88.2,491.2 97.1,487.1 106.2,481.2 115.2,479.0 125.7,479.9 134.8,482.1 143.8,485.3 152.7,488.0 163.2,489.8 172.2,493.9 181.3,499.1 190.3,502.5 199.4,500.3 209.7,492.4 218.8,485.8 227.8,480.4 236.8,477.4 247.2,476.3 256.2,478.3 265.3,481.2 274.3,482.9 284.7,482.9 293.7,479.6 302.7,477.6 311.8,476.6 320.8,478.3 331.2,478.8 340.2,480.1 349.1,482.9 358.3,488.6 368.6,497.7 377.7,508.5 386.7,516.6 395.8,522.6 404.8,523.5 415.2,521.8 424.2,515.7 433.1,508.8 442.1,501.8 452.7,496.8 461.7,493.5 470.7,491.6 479.8,494.0 488.7,499.3 499.2,509.5 508.2,513.3 517.2,513.6 526.1,510.5 536.8,510.5 545.8,512.8 554.8,516.2 563.9,519.4 572.8,521.5 583.2,523.1 592.2,522.6 601.2,520.3 610.3,518.2 620.8,518.2 629.8,517.4 638.7,515.2 647.7,508.3 656.8,501.8 667.1,496.8 676.2,496.5 685.2,499.3 694.2,505.9 704.8,508.8 713.8,510.0 722.7,507.5 731.9,505.9 740.9,505.9 751.2,508.3 760.2,513.3 769.3,517.1 778.3,517.9 788.8,514.1 797.8,508.0 806.7,500.1 815.7,494.4 824.8,488.9 835.1,484.5 844.2,479.9 853.2,477.1 862.2,476.6 872.6,477.9 881.6,481.2 890.7,484.8 899.7,488.3 908.8,491.9 919.1,495.2 928.3,500.9 937.1,507.5 946.2,515.4 956.6,519.8 965.7,522.0 974.7,521.8 983.7,522.6 992.8,522.6 1003.1,523.1 1012.2,523.1 1021.2,523.5 1030.2,522.8 1040.8,521.8 1049.8,520.7 1058.7,519.5 1067.7,517.4 1076.8,513.6 1087.3,505.5 1096.3,497.7" stroke="#a54247" stroke-width="1.4"/>
</g>
<rect x="0" y="460" width="199.5" height="28" fill="#fff" fill-opacity="0.74"/>
<g id="legend" font-size="18">
<text x="-6.6" y="480.8" fill="#222" textLength="113.5" lengthAdjust="spacingAndGlyphs">oOsc (14, 3, 3)</text>
<text x="115.8" y="480.8" fill="#4a78b0" textLength="35" lengthAdjust="spacingAndGlyphs">64.6</text>
<text x="161.5" y="480.8" fill="#b3494d" textLength="35" lengthAdjust="spacingAndGlyphs">56.6</text>
</g>
<circle cx="80.4" cy="503.7" r="8.4" fill="#f0a254"/>
<text x="80.4" y="508.3" font-size="13.5" font-weight="bold" fill="#fff" text-anchor="middle">1</text>
<g id="yaxis" font-size="15.2" fill="#767676">
<text x="1157.5" y="38.7" textLength="45.6" lengthAdjust="spacingAndGlyphs">100.00</text>
<text x="1157.5" y="76.2" textLength="37.4" lengthAdjust="spacingAndGlyphs">97.50</text>
<text x="1157.5" y="112.3" textLength="37.4" lengthAdjust="spacingAndGlyphs">95.00</text>
<text x="1157.5" y="148.4" textLength="37.4" lengthAdjust="spacingAndGlyphs">92.50</text>
<text x="1157.5" y="185.6" textLength="37.4" lengthAdjust="spacingAndGlyphs">90.00</text>
<text x="1157.5" y="221.9" textLength="37.4" lengthAdjust="spacingAndGlyphs">87.50</text>
<text x="1157.5" y="258.1" textLength="37.4" lengthAdjust="spacingAndGlyphs">85.00</text>
<text x="1157.5" y="295.2" textLength="37.4" lengthAdjust="spacingAndGlyphs">82.50</text>
<text x="1157.5" y="332.0" textLength="37.4" lengthAdjust="spacingAndGlyphs">80.00</text>
<text x="1157.5" y="367.9" textLength="37.4" lengthAdjust="spacingAndGlyphs">77.50</text>
<text x="1157.5" y="405.5" textLength="37.4" lengthAdjust="spacingAndGlyphs">75.00</text>
<text x="1157.5" y="441.5" textLength="37.4" lengthAdjust="spacingAndGlyphs">72.50</text>
<text x="1157" y="474.3" font-size="15.4" textLength="25" lengthAdjust="spacingAndGlyphs">100</text>
<text x="1157.3" y="532.8">0</text>
</g>
<path d="M1199.5 5V16A7.5 7.5 0 0 0 1207 23.5H1217" fill="none" stroke="#dcdcdc" stroke-width="2"/>
<path d="M1196.2 457L1209.2 469.8M1209.2 457L1196.2 469.8" fill="none" stroke="#8a8a8a" stroke-width="1.5"/>
<path d="M1148.2 325.7H1217V352.5H1148.2Q1145.8 352.5 1145.2 349.9L1142.3 339.1L1145.2 328.3Q1145.8 325.7 1148.2 325.7Z" fill="#df5350"/>
<text x="1157.2" y="345.2" font-size="15.5" fill="#fff" stroke="#fff" stroke-width="0.5" textLength="37.5" lengthAdjust="spacingAndGlyphs">79.14</text>
<path d="M1148.2 476.0H1217V502.8H1148.2Q1145.8 502.8 1145.2 500.2L1142.3 489.4L1145.2 478.6Q1145.8 476.0 1148.2 476.0Z" fill="#3f6fa9"/>
<path d="M1148.2 483.6H1217V510.4H1148.2Q1145.8 510.4 1145.2 507.8L1142.3 497.0L1145.2 486.2Q1145.8 483.6 1148.2 483.6Z" fill="#a9454a"/>
<text x="1157.2" y="502.3" font-size="15.5" fill="#fff" stroke="#fff" stroke-width="0.5" textLength="15.4" lengthAdjust="spacingAndGlyphs">51</text>
<g id="xaxis" font-size="15.2" fill="#777" text-anchor="middle">
<text x="12.2" y="563" textLength="85.5" lengthAdjust="spacingAndGlyphs">26 Oct 03:00</text>
<text x="189.3" y="563" fill="#222" textLength="26.8" lengthAdjust="spacingAndGlyphs">Nov</text>
<text x="376.3" y="563" textLength="79.6" lengthAdjust="spacingAndGlyphs">9 Nov 11:00</text>
<text x="499.4" y="563" textLength="87.0" lengthAdjust="spacingAndGlyphs">15 Nov 11:00</text>
<text x="620.7" y="563" textLength="88.0" lengthAdjust="spacingAndGlyphs">21 Nov 11:00</text>
<text x="740.3" y="563" textLength="87.9" lengthAdjust="spacingAndGlyphs">25 Nov 19:00</text>
<text x="842.9" y="563" fill="#222" textLength="25.8" lengthAdjust="spacingAndGlyphs">Dec</text>
<text x="983.3" y="563" textLength="78.4" lengthAdjust="spacingAndGlyphs">7 Dec 19:00</text>
<text x="1104.8" y="563" textLength="86.7" lengthAdjust="spacingAndGlyphs">13 Dec 19:00</text>
</g>
</svg>
</body></html>
